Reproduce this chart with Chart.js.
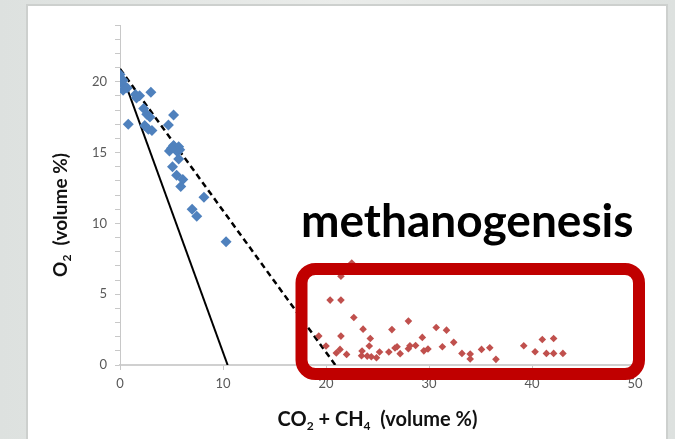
<!DOCTYPE html>
<html>
<head>
<meta charset="utf-8">
<script src="https://cdn.jsdelivr.net/npm/chart.js@4.4.0/dist/chart.umd.min.js"></script>
<style>
  html, body { margin: 0; padding: 0; }
  body {
    width: 675px; height: 439px; overflow: hidden; position: relative;
    background: linear-gradient(to right, #dde1df 0%, #eaecea 50%, #dde1df 100%);
  }
  #panel {
    position: absolute; left: 26px; top: 4px; width: 638px; height: 460px;
    background: #fff; border: 2px solid #cdd0ce;
  }
  #wrap { position: absolute; left: 0; top: 0; width: 675px; height: 439px; }
</style>
</head>
<body>
<div id="panel"></div>
<div id="wrap"><canvas id="chart" width="675" height="439"></canvas></div>
<script>
// aerobic respiration samples (blue)
const respX  = [0.0, 0.3, 0.3, 0.3, 0.7, 1.5, 1.9, 1.6, 3.0, 2.3, 2.6, 2.9, 0.8, 2.4, 2.75, 3.1, 5.2, 4.7,
                4.8, 5.2, 5.7, 5.8, 5.5, 5.0, 5.7, 5.1, 5.5, 6.1, 5.9, 8.15, 7.0, 7.45, 10.3];
const respO2 = [20.5, 20.1, 19.8, 19.4, 19.55, 19.1, 19.0, 18.85, 19.25, 18.1, 17.7, 17.5, 17.0, 16.9, 16.65, 16.55, 17.65, 16.95,
                15.1, 15.5, 15.4, 15.2, 15.1, 15.3, 14.55, 14.0, 13.4, 13.1, 12.6, 11.85, 11.0, 10.5, 8.7];

// methanogenic samples (red)
const methX  = [22.5, 21.45, 20.4, 21.45, 22.7, 23.6, 28.0, 26.4, 19.3, 21.45, 24.3, 20.0, 21.36, 21.0, 22.0, 23.5,
                23.45, 24.2, 24.4, 24.9, 25.2, 26.1, 26.7, 26.9, 27.2, 28.0, 28.15, 28.7, 29.35, 29.5, 29.9, 30.7,
                31.7, 31.3, 32.4, 33.2, 34.0, 34.0, 35.1, 35.9, 36.5, 39.2, 40.3, 41.0, 42.1, 41.4, 42.1, 43.0, 24.0];
const methO2 = [7.2, 6.27, 4.58, 4.58, 3.35, 2.53, 3.1, 2.5, 2.04, 2.04, 1.87, 1.34, 1.1, 0.85, 0.75, 0.99,
                0.65, 1.34, 0.58, 0.51, 0.92, 0.92, 1.2, 1.29, 0.8, 1.15, 1.36, 1.38, 1.95, 1.0, 1.13, 2.65,
                2.46, 1.29, 1.6, 0.82, 0.77, 0.42, 1.1, 1.22, 0.4, 1.36, 0.94, 1.8, 1.87, 0.82, 0.82, 0.82, 0.63];

// reference lines
const solidX  = [0, 10.45];
const solidO2 = [20.9, 0];
const dashX   = [0, 20.9];
const dashO2  = [20.9, 0];

const xTicks = [0, 10, 20, 30, 40, 50];
const yTicks = [0, 5, 10, 15, 20];

const zip = (xs, ys) => xs.map((x, i) => ({ x: x, y: ys[i] }));

// draws a string made of runs, some of them as subscripts
function drawRuns(ctx, runs, cx, baseline, size) {
    const big = `bold ${size}px Lato`;
    const small = `bold ${Math.round(size * 0.62)}px Lato`;
    let total = 0;
    runs.forEach(r => {
        ctx.font = r.sub ? small : big;
        total += ctx.measureText(r.t).width;
    });
    let x = cx - total / 2;
    runs.forEach(r => {
        ctx.font = r.sub ? small : big;
        ctx.fillText(r.t, x, r.sub ? baseline + size * 0.2 : baseline);
        x += ctx.measureText(r.t).width;
    });
}

const overlay = {
    id: 'overlay',
    afterDraw(chart) {
        const ctx = chart.ctx;
        const area = chart.chartArea;
        ctx.save();
        ctx.fillStyle = '#111';
        ctx.textBaseline = 'alphabetic';

        // x title
        drawRuns(ctx, [{ t: 'CO' }, { t: '2', sub: true }, { t: ' + CH' }, { t: '4', sub: true }, { t: '  (volume %)' }],
            (area.left + area.right) / 2, 426, 20);

        // y title
        ctx.save();
        ctx.translate(67, 215);
        ctx.rotate(-Math.PI / 2);
        drawRuns(ctx, [{ t: 'O' }, { t: '2', sub: true }, { t: '  (volume %)' }], 0, 0, 19);
        ctx.restore();

        // methanogenesis highlight
        ctx.strokeStyle = '#c00000';
        ctx.lineWidth = 12;
        ctx.beginPath();
        ctx.roundRect(301.5, 269, 337.5, 105, 14);
        ctx.stroke();

        ctx.fillStyle = '#000';
        ctx.font = 'bold 46px Lato';
        ctx.fillText('methanogenesis', 301, 237);
        ctx.restore();
    }
};

new Chart(document.getElementById('chart'), {
    type: 'scatter',
    data: {
        datasets: [
            {
                data: zip(solidX, solidO2),
                showLine: true, pointRadius: 0,
                borderColor: '#000', borderWidth: 2, order: 2
            },
            {
                data: zip(dashX, dashO2),
                showLine: true, pointRadius: 0,
                borderColor: '#000', borderWidth: 2.5, borderDash: [6, 4], order: 2
            },
            {
                data: zip(respX, respO2),
                pointStyle: 'rectRot', pointRadius: 5.5,
                backgroundColor: '#4f81bd', borderColor: '#4f81bd', borderWidth: 0, order: 1
            },
            {
                data: zip(methX, methO2),
                pointStyle: 'rectRot', pointRadius: 3.8,
                backgroundColor: '#c0504d', borderColor: '#c0504d', borderWidth: 0, order: 1
            }
        ]
    },
    options: {
        responsive: false,
        animation: false,
        layout: { padding: { top: 25, right: 40, left: 0, bottom: 0 } },
        plugins: { legend: { display: false }, tooltip: { enabled: false } },
        scales: {
            x: {
                type: 'linear', min: xTicks[0], max: xTicks[xTicks.length - 1],
                afterFit: s => { s.height = 74; },
                afterBuildTicks: s => { s.ticks = xTicks.map(v => ({ value: v })); },
                grid: { drawOnChartArea: false, drawTicks: true, tickLength: 5, color: '#c8c8c8' },
                border: { color: '#d0d0d0', width: 2 },
                ticks: { padding: 6, color: '#595959', font: { family: 'Lato', size: 13 } }
            },
            y: {
                type: 'linear', min: 0, max: 24,
                afterFit: s => { s.width = 120; },
                ticks: {
                    stepSize: 1, autoSkip: false, padding: 8, color: '#595959',
                    font: { family: 'Lato', size: 13 },
                    callback: v => yTicks.includes(v) ? v : ''
                },
                grid: { drawOnChartArea: false, drawTicks: true, tickLength: 5, color: '#c8c8c8' },
                border: { color: '#c8c8c8', width: 1 }
            }
        }
    },
    plugins: [overlay]
});
</script>
</body>
</html>
